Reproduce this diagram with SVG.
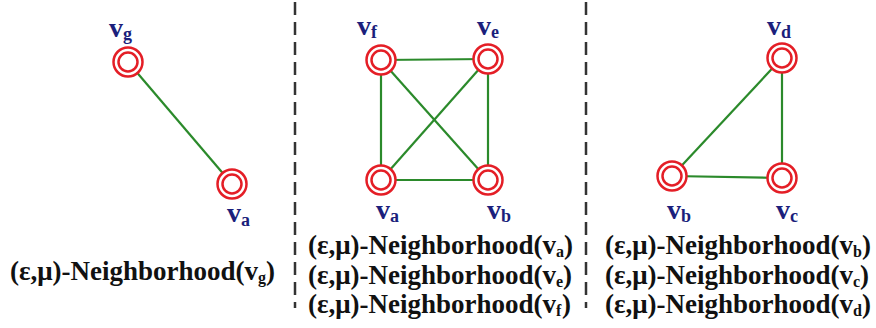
<svg xmlns="http://www.w3.org/2000/svg" width="876" height="328" viewBox="0 0 876 328">
<defs>
<g id="node"><circle r="14.5" fill="#fff" stroke="#e41e26" stroke-width="2.5"/><circle r="9.5" fill="#fff" stroke="#e41e26" stroke-width="2.5"/></g>
</defs>
<g id="separators" stroke="#333" stroke-width="2.5" stroke-dasharray="13 7">
<line x1="295" y1="2" x2="295" y2="308"/>
<line x1="586" y1="2" x2="586" y2="308"/>
</g>
<g id="connectors" stroke="#2b8a2b" stroke-width="2.2" fill="none">
<line x1="128" y1="62" x2="232" y2="184"/>
<line x1="381" y1="60" x2="488" y2="59"/>
<line x1="381" y1="60" x2="381" y2="180"/>
<line x1="488" y1="59" x2="488" y2="180"/>
<line x1="381" y1="180" x2="488" y2="180"/>
<line x1="381" y1="60" x2="488" y2="180"/>
<line x1="488" y1="59" x2="381" y2="180"/>
<line x1="782" y1="58" x2="782" y2="178"/>
<line x1="782" y1="58" x2="672" y2="176"/>
<line x1="672" y1="176" x2="782" y2="178"/>
</g>
<g id="n-vg"><use href="#node" x="128" y="62"/><text x="109" y="37" font-family="Liberation Serif, Times New Roman, serif" font-weight="bold" font-size="28" fill="#1b1f7c">v</text><text x="123" y="40" font-family="Liberation Serif, Times New Roman, serif" font-weight="bold" font-size="18" fill="#1b1f7c">g</text></g>
<g id="n-va-left"><use href="#node" x="232" y="184"/><text x="227" y="222" font-family="Liberation Serif, Times New Roman, serif" font-weight="bold" font-size="28" fill="#1b1f7c">v</text><text x="241" y="226" font-family="Liberation Serif, Times New Roman, serif" font-weight="bold" font-size="18" fill="#1b1f7c">a</text></g>
<g id="n-vf"><use href="#node" x="381" y="60"/><text x="357" y="35" font-family="Liberation Serif, Times New Roman, serif" font-weight="bold" font-size="28" fill="#1b1f7c">v</text><text x="371" y="38" font-family="Liberation Serif, Times New Roman, serif" font-weight="bold" font-size="18" fill="#1b1f7c">f</text></g>
<g id="n-ve"><use href="#node" x="488" y="59"/><text x="477" y="35" font-family="Liberation Serif, Times New Roman, serif" font-weight="bold" font-size="28" fill="#1b1f7c">v</text><text x="491" y="38" font-family="Liberation Serif, Times New Roman, serif" font-weight="bold" font-size="18" fill="#1b1f7c">e</text></g>
<g id="n-va"><use href="#node" x="381" y="180"/><text x="376" y="219" font-family="Liberation Serif, Times New Roman, serif" font-weight="bold" font-size="28" fill="#1b1f7c">v</text><text x="390" y="222" font-family="Liberation Serif, Times New Roman, serif" font-weight="bold" font-size="18" fill="#1b1f7c">a</text></g>
<g id="n-vb"><use href="#node" x="488" y="180"/><text x="487" y="219" font-family="Liberation Serif, Times New Roman, serif" font-weight="bold" font-size="28" fill="#1b1f7c">v</text><text x="501" y="222" font-family="Liberation Serif, Times New Roman, serif" font-weight="bold" font-size="18" fill="#1b1f7c">b</text></g>
<g id="n-vd"><use href="#node" x="782" y="58"/><text x="767" y="35" font-family="Liberation Serif, Times New Roman, serif" font-weight="bold" font-size="28" fill="#1b1f7c">v</text><text x="781" y="38" font-family="Liberation Serif, Times New Roman, serif" font-weight="bold" font-size="18" fill="#1b1f7c">d</text></g>
<g id="n-vb-right"><use href="#node" x="672" y="176"/><text x="667" y="219" font-family="Liberation Serif, Times New Roman, serif" font-weight="bold" font-size="28" fill="#1b1f7c">v</text><text x="681" y="222" font-family="Liberation Serif, Times New Roman, serif" font-weight="bold" font-size="18" fill="#1b1f7c">b</text></g>
<g id="n-vc"><use href="#node" x="782" y="178"/><text x="776" y="219" font-family="Liberation Serif, Times New Roman, serif" font-weight="bold" font-size="28" fill="#1b1f7c">v</text><text x="790" y="222" font-family="Liberation Serif, Times New Roman, serif" font-weight="bold" font-size="18" fill="#1b1f7c">c</text></g>
<g id="captions" fill="#111">
<g id="cap-vg"><text x="10" y="280" font-family="Liberation Serif, Times New Roman, serif" font-weight="bold" font-size="27">(ε,μ)-Neighborhood(v</text><text x="258" y="283" font-family="Liberation Serif, Times New Roman, serif" font-weight="bold" font-size="16">g</text><text x="266" y="280" font-family="Liberation Serif, Times New Roman, serif" font-weight="bold" font-size="27">)</text></g>
<g id="cap-va"><text x="308" y="254" font-family="Liberation Serif, Times New Roman, serif" font-weight="bold" font-size="27">(ε,μ)-Neighborhood(v</text><text x="556" y="257" font-family="Liberation Serif, Times New Roman, serif" font-weight="bold" font-size="16">a</text><text x="564" y="254" font-family="Liberation Serif, Times New Roman, serif" font-weight="bold" font-size="27">)</text></g>
<g id="cap-ve"><text x="308" y="284" font-family="Liberation Serif, Times New Roman, serif" font-weight="bold" font-size="27">(ε,μ)-Neighborhood(v</text><text x="556" y="287" font-family="Liberation Serif, Times New Roman, serif" font-weight="bold" font-size="16">e</text><text x="563" y="284" font-family="Liberation Serif, Times New Roman, serif" font-weight="bold" font-size="27">)</text></g>
<g id="cap-vf"><text x="308" y="313" font-family="Liberation Serif, Times New Roman, serif" font-weight="bold" font-size="27">(ε,μ)-Neighborhood(v</text><text x="556" y="316" font-family="Liberation Serif, Times New Roman, serif" font-weight="bold" font-size="16">f</text><text x="562" y="313" font-family="Liberation Serif, Times New Roman, serif" font-weight="bold" font-size="27">)</text></g>
<g id="cap-vb"><text x="605" y="254" font-family="Liberation Serif, Times New Roman, serif" font-weight="bold" font-size="27">(ε,μ)-Neighborhood(v</text><text x="853" y="257" font-family="Liberation Serif, Times New Roman, serif" font-weight="bold" font-size="16">b</text><text x="862" y="254" font-family="Liberation Serif, Times New Roman, serif" font-weight="bold" font-size="27">)</text></g>
<g id="cap-vc"><text x="605" y="284" font-family="Liberation Serif, Times New Roman, serif" font-weight="bold" font-size="27">(ε,μ)-Neighborhood(v</text><text x="853" y="287" font-family="Liberation Serif, Times New Roman, serif" font-weight="bold" font-size="16">c</text><text x="860" y="284" font-family="Liberation Serif, Times New Roman, serif" font-weight="bold" font-size="27">)</text></g>
<g id="cap-vd"><text x="605" y="313" font-family="Liberation Serif, Times New Roman, serif" font-weight="bold" font-size="27">(ε,μ)-Neighborhood(v</text><text x="853" y="316" font-family="Liberation Serif, Times New Roman, serif" font-weight="bold" font-size="16">d</text><text x="862" y="313" font-family="Liberation Serif, Times New Roman, serif" font-weight="bold" font-size="27">)</text></g>
</g>
</svg>
